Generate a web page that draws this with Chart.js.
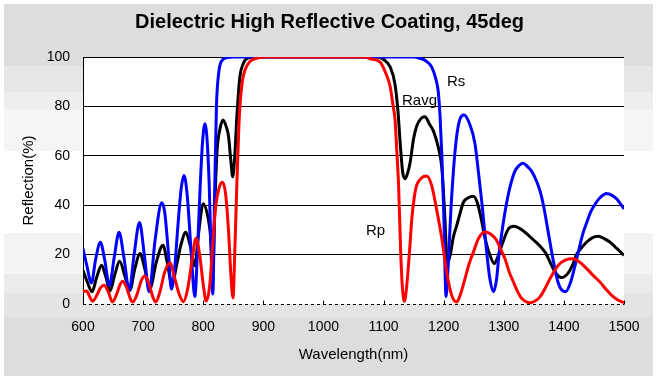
<!DOCTYPE html>
<html><head><meta charset="utf-8">
<script src="https://cdn.jsdelivr.net/npm/chart.js@4.4.1/dist/chart.umd.min.js"></script>
<style>
html,body{margin:0;padding:0;background:#fff;}
#wrap{position:relative;width:659px;height:381px;}
#bg{position:absolute;left:4px;top:4px;width:649px;height:372px;background:linear-gradient(to bottom,#dddddd 0px,#dddddd 62px,#e6e6e6 62px,#e6e6e6 88px,#eeeeee 88px,#eeeeee 106px,#f5f5f5 106px,#f5f5f5 147px,#ffffff 147px,#ffffff 229px,#f3f3f3 229px,#f3f3f3 270px,#ebebeb 270px,#ebebeb 289px,#e4e4e4 289px,#e4e4e4 313px,#dddddd 313px);}
canvas{position:absolute;left:0;top:0;}
</style></head>
<body><div id="wrap"><div id="bg"></div><canvas id="c" width="659" height="381"></canvas></div>
<script>
// ---- data (wavelength in nm, reflection in %) ----
const rsWl = [600,606,614,621,629,636,644,652,660,668,677,685,694,702,710,720,731,736,742,747,752,758,763,768,773,777,781,786,791,795,799,803,806,810,813,816,819,822,826,831,840,850,1150,1160,1170,1180,1187,1191,1194,1197,1200,1204,1208,1212,1219,1226,1234,1243,1252,1258,1264,1272,1277,1283,1288,1292,1298,1304,1310,1318,1325,1332,1340,1347,1354,1360,1366,1374,1382,1390,1397,1403,1410,1418,1424,1431,1438,1445,1452,1460,1471,1480,1488,1500];
const rsVal = [22.4,16,8.5,18,25,18,7.5,19,29,19,5.5,20,33,20,5,26,41,37,21,6,13,32,46,52,45,32,17,3,25,48,66,73,68,48,22,4,45,80,94,98.5,99.8,100,100,99.5,98.5,96,91,86,76,60,38,3,18,38,62,74,76.5,73,65,53,40,20,10,5,10,20,31,40,47,53.5,56,57,55.5,53.5,50,46,40,29,18,9,5.5,5,8,15,21,28,33,37.5,40.5,43,44.7,44,42.5,38.5];

const ravgWl = [600,607,615,623,631,638,645,653,661,670,678,686,695,703,711,722,733,740,748,756,763,771,778,786,792,800,808,812,816,820,823,828,833,838,842,846,849,852,856,861,866,872,885,1090,1100,1111,1119,1124,1128,1132,1136,1140,1144,1150,1155,1162,1169,1176,1183,1191,1197,1202,1206,1211,1216,1222,1227,1233,1241,1249,1256,1262,1269,1277,1284,1290,1297,1308,1317,1327,1338,1350,1362,1370,1377,1385,1396,1407,1414,1421,1430,1438,1447,1457,1467,1477,1488,1500];
const ravgVal = [13.6,9,5,11,15.7,11,5.3,12,17.3,11,5.5,14,20.4,14,6,17,23.8,17,8,16,24,29,24,15.5,28,40.6,35,28,15,45,62,71,74.5,72,68,58,51.5,58,76,92,97,99.3,100,100,99,96,89,78,64,53,50.7,53,57,67,72,75,75.8,73,70,63.5,55,35,16.5,20,27,32,36.5,41.3,43,43.6,41,35,26.5,19.7,16.4,19,24,30.5,31.5,30.5,28.5,25.8,23,20.5,17,13,10.7,12.5,15.5,20,23,25.1,26.8,27.4,26.5,25,22.5,19.7];

const rpWl = [600,606,611,616,623,629,635,642,649,656,662,666,672,679,683,690,697,703,710,716,721,728,736,745,752,760,767,774,781,788,794,800,805,811,816,821,827,832,837,842,846,849.5,853,856,859,861,865,870,878,890,900,1070,1077,1094,1105,1111,1116,1119,1122,1125,1128.5,1131,1134.6,1138,1141,1144,1147,1151,1155,1163,1171.6,1180,1188,1197,1205,1213.4,1221.7,1228,1235.5,1242,1249.4,1258,1268.8,1278,1288,1295,1302,1309,1316,1323,1330,1343.6,1352,1360,1368,1377,1390.7,1402,1415.7,1427,1438,1449,1460,1470,1479.5,1490,1500];
const rpVal = [5,5.3,3,1.1,3.5,6.5,7.6,5,0.8,4,8,9.2,7,2,0.8,4,9.5,11.3,8,3,0.8,5,13,16.7,11,4,0.9,6,17,26.6,20,8,1.2,8,25,40,47.5,49.3,45,30,12,2.5,25,49,70,80,90,95,98.3,99.6,100,100,99.3,98,92.6,88,80,75,62,48,21,8,1.1,6,14.3,24,34.5,43,48,51,51.8,48,38.6,26.4,13,3.5,0.8,4,10.3,16,21,26.5,29.1,28.3,25.8,22,18.3,13,8.9,5,2.2,0.5,1.2,2.8,6,10.3,15.7,17.8,18.3,16.8,14.3,11.5,8.9,6,3.5,1.6,0.5];

const xTickMin = 600, xTickMax = 1500, xTickStep = 100;
const yTickMin = 0, yTickMax = 100, yTickStep = 20;

const labelText = ['Rs','Ravg','Rp'];
const labelWl = [1205.6,1130.7,1070.8];
const labelR = [89.9,82.2,29.6];

const FONT = '"Liberation Sans", Arial, Helvetica, sans-serif';
const toPts = (xs, ys) => xs.map((v, i) => ({x: v, y: ys[i]}));

const decor = {
  id: 'decor',
  beforeDraw(chart) {
    const {ctx, chartArea: a} = chart;
    ctx.save();
    ctx.fillStyle = '#ffffff';
    ctx.fillRect(a.left, a.top, a.right - a.left, a.bottom - a.top);
    ctx.restore();
  },
  beforeDatasetsDraw(chart) {
    const {ctx, chartArea: a, scales: {x, y}} = chart;
    const y0 = Math.round(y.getPixelForValue(0)) + 0.5;
    ctx.save();
    ctx.strokeStyle = '#000';
    ctx.lineWidth = 1;
    ctx.setLineDash([3, 3]);
    ctx.beginPath(); ctx.moveTo(a.left, y0); ctx.lineTo(a.right, y0); ctx.stroke();
    ctx.setLineDash([]);
    x.ticks.forEach(t => {
      const px = Math.round(x.getPixelForValue(t.value)) + 0.5;
      ctx.beginPath(); ctx.moveTo(px, y0); ctx.lineTo(px, y0 - 4); ctx.stroke();
    });
    ctx.restore();
  },
  afterDatasetsDraw(chart) {
    const {ctx, scales: {x, y}} = chart;
    ctx.save();
    ctx.font = '15px ' + FONT;
    ctx.fillStyle = '#000';
    ctx.textAlign = 'left';
    ctx.textBaseline = 'middle';
    labelText.forEach((t, i) => ctx.fillText(t, x.getPixelForValue(labelWl[i]), y.getPixelForValue(labelR[i])));
    ctx.restore();
  }
};

const common = {pointRadius: 0, borderWidth: 3, cubicInterpolationMode: 'monotone', fill: false};

new Chart(document.getElementById('c'), {
  type: 'line',
  data: {
    datasets: [
      Object.assign({label: 'Rp', data: toPts(rpWl, rpVal), borderColor: '#ff0000', order: 1}, common),
      Object.assign({label: 'Rs', data: toPts(rsWl, rsVal), borderColor: '#0000ff', order: 2}, common),
      Object.assign({label: 'Ravg', data: toPts(ravgWl, ravgVal), borderColor: '#000000', order: 3}, common)
    ]
  },
  options: {
    responsive: false,
    animation: false,
    devicePixelRatio: 1,
    layout: {padding: {left: 0, right: 0, top: 0, bottom: 0}},
    plugins: {
      legend: {display: false},
      tooltip: {enabled: false},
      title: {
        display: true,
        text: 'Dielectric High Reflective Coating, 45deg',
        color: '#000',
        font: {family: FONT, size: 20, weight: 'bold'},
        padding: {top: 10, bottom: 23}
      }
    },
    scales: {
      x: {
        type: 'linear',
        min: xTickMin, max: xTickMax,
        ticks: {stepSize: xTickStep, color: '#000', font: {family: FONT, size: 14}, padding: 15, maxRotation: 0, autoSkip: false,
                callback: v => String(v)},
        grid: {display: false, drawTicks: false},
        border: {display: false},
        title: {display: true, text: 'Wavelength(nm)', color: '#000', font: {family: FONT, size: 15}, padding: {top: 0, bottom: 17}},
        afterFit(s) { s.height = 77; }
      },
      y: {
        min: yTickMin, max: yTickMax,
        ticks: {stepSize: yTickStep, color: '#000', font: {family: FONT, size: 14}, padding: 13},
        grid: {drawTicks: false, lineWidth: 1, color: c => (c.tick && c.tick.value === 0) ? 'rgba(0,0,0,0)' : '#000'},
        border: {display: true, color: '#000', width: 1},
        title: {display: true, text: 'Reflection(%)', color: '#000', font: {family: FONT, size: 15}, padding: {top: 20, bottom: 0}},
        afterFit(s) { s.width = 83; }
      },
      yRight: {
        position: 'right',
        display: true,
        min: yTickMin, max: yTickMax,
        ticks: {display: false},
        grid: {display: false, drawTicks: false},
        border: {display: false},
        afterFit(s) { s.width = 35; }
      }
    }
  },
  plugins: [decor]
});
</script></body></html>
